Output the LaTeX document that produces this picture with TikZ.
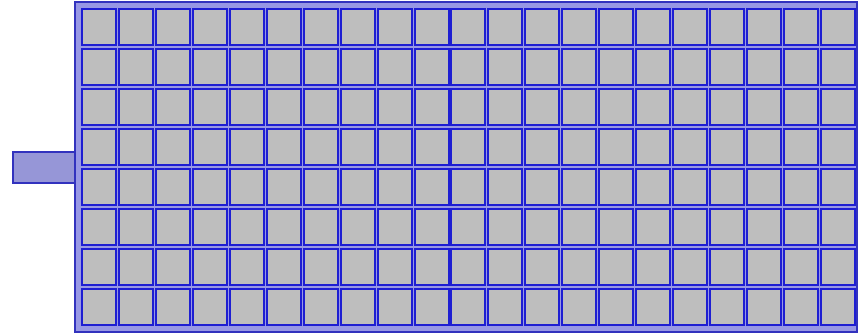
\documentclass[tikz,border=0pt]{standalone}
\usepackage{tikz}
\definecolor{trayfill}{RGB}{152,152,228}
\definecolor{tabfill}{RGB}{150,150,215}
\definecolor{trayline}{RGB}{50,50,190}
\definecolor{cellline}{RGB}{30,30,210}
\definecolor{cellfill}{RGB}{190,190,190}

\begin{document}
\begin{tikzpicture}[x=0.02cm, y=-0.02cm]
    \useasboundingbox (0,0) rectangle (865,335);

    % --- Tray and Side Tab ---
    \draw[fill=tabfill, draw=trayline, line width=0.03cm] (13,152) rectangle (75,183);
    \draw[fill=trayfill, draw=trayline, line width=0.03cm] (75,2) rectangle (857,332);

    % --- Grid of Cells (21 x 8) ---
    \foreach \i in {0,...,20} {
        \pgfmathtruncatemacro{\cx}{round(82+36.95*\i)}
        \foreach \j in {0,...,7} {
            \draw[fill=cellfill, draw=cellline, line width=0.04cm]
                (\cx, {9+40*\j}) rectangle ++(34,36);
        }
    }

\end{tikzpicture}
\end{document}
